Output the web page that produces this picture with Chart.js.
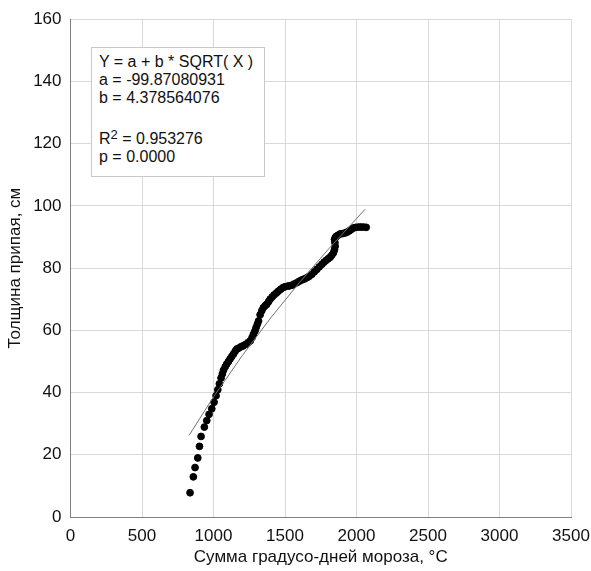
<!DOCTYPE html>
<html>
<head>
<meta charset="utf-8">
<script src="https://cdn.jsdelivr.net/npm/chart.js@4"></script>
<style>
  body { margin: 0; background: #fff; }
  #wrap { position: relative; width: 591px; height: 571px; }
  #stats {
    position: absolute; left: 91px; top: 47px; width: 174px; height: 130px;
    box-sizing: border-box; border: 1px solid #c8c8c8; background: #fff;
    font-family: "Liberation Sans", Arial, sans-serif; font-size: 16px; color: #111;
    padding: 5px 0 0 7px; line-height: 18px;
  }
  #stats div { white-space: nowrap; }
  #stats sup { font-size: 13px; vertical-align: 5px; line-height: 0; }
</style>
</head>
<body>
<div id="wrap">
  <canvas id="chart" width="591" height="571"></canvas>
  <div id="stats">
    <div>Y = a + b * SQRT( X )</div>
    <div>a = -99.87080931</div>
    <div>b = 4.378564076</div>
    <div style="height:23px"></div>
    <div>R<sup>2</sup> = 0.953276</div>
    <div>p = 0.0000</div>
  </div>
</div>
<script>
// Sum of freezing degree-days (x) and fast ice thickness, cm (y)
const frostSum = [836, 859, 871, 890, 902, 913, 936, 953, 969, 988, 1004, 1018, 1030, 1041, 1053, 1062,
  1070, 1082, 1093, 1105, 1116, 1128, 1140, 1152, 1163, 1177, 1191, 1206, 1222, 1240, 1257, 1270,
  1280, 1290, 1298, 1307, 1315, 1326, 1338, 1349, 1361, 1373, 1385, 1396, 1410, 1424, 1440, 1454,
  1470, 1485, 1500, 1517, 1532, 1548, 1565, 1583, 1600, 1618, 1635, 1653, 1670, 1688, 1705, 1723,
  1740, 1758, 1773, 1788, 1802, 1816, 1828, 1839, 1846, 1851, 1849, 1846, 1852, 1858, 1872, 1886,
  1904, 1921, 1936, 1951, 1965, 1979, 1996, 2014, 2031, 2049, 2068];
const iceThickness = [7.8, 12.9, 15.9, 19, 22.7, 25.9, 28.9, 31, 33, 34.8, 36.9, 39, 40.9, 42.8, 44.7, 46,
  47.2, 48.3, 49.2, 50, 50.8, 51.6, 52.4, 53.3, 54, 54.3, 54.7, 55, 55.4, 56, 56.6, 57.7,
  58.8, 59.8, 60.9, 62, 63, 65, 66.3, 67.3, 67.9, 68.4, 69.2, 70, 70.7, 71.4, 72, 72.6,
  73.2, 73.7, 74, 74.2, 74.3, 74.5, 74.9, 75.3, 75.8, 76.2, 76.5, 76.9, 77.4, 78, 78.8, 79.6,
  80.4, 81.2, 81.9, 82.5, 83, 83.5, 84.2, 84.9, 85.9, 87, 88.2, 89.2, 89.8, 90.2, 90.6, 91,
  91.1, 91.3, 91.6, 92, 92.5, 92.9, 93.1, 93.2, 93.2, 93.2, 93.1];

// Fitted curve Y = a + b*sqrt(X), values read at a few X
const fitX = [830, 1000, 1200, 1400, 1600, 1800, 2060];
const fitY = [26.3, 38.6, 51.8, 64.0, 75.3, 85.9, 98.9];

const font = { family: '"Liberation Sans", Arial, sans-serif', size: 17 };

new Chart(document.getElementById('chart'), {
  type: 'scatter',
  data: {
    datasets: [{
      label: 'fit',
      data: fitX.map((x, i) => ({ x: x, y: fitY[i] })),
      showLine: true,
      borderColor: '#707070',
      borderWidth: 1,
      pointRadius: 0,
      order: 0
    }, {
      label: 'obs',
      data: frostSum.map((x, i) => ({ x: x, y: iceThickness[i] })),
      backgroundColor: '#000',
      borderColor: '#000',
      pointRadius: 3.4,
      order: 1
    }]
  },
  options: {
    responsive: false,
    animation: false,
    layout: { padding: { top: 17, right: 20, left: 5, bottom: 0 } },
    plugins: { legend: { display: false }, tooltip: { enabled: false } },
    scales: {
      x: {
        type: 'linear', min: 0, max: 3500,
        ticks: { stepSize: 500, color: '#111', font: font, padding: 9, maxRotation: 0,
          callback: v => String(v) },
        grid: { color: '#d9d9d9', drawTicks: false },
        border: { color: '#808080' },
        title: { display: true, text: 'Сумма градусо-дней мороза, °C', color: '#111', font: font,
          padding: { top: 0, bottom: 3 } },
        afterFit: s => { s.height = 54; s.paddingLeft = 0; s.paddingRight = 0; }
      },
      y: {
        min: 0, max: 160,
        ticks: { stepSize: 20, color: '#111', font: font, padding: 9,
          callback: v => String(v) },
        grid: { color: '#d9d9d9', drawTicks: false },
        border: { color: '#808080' },
        title: { display: true, text: 'Толщина припая, см', color: '#111', font: font, padding: 0 },
        afterFit: s => { s.width = 65.5; }
      }
    }
  }
});
</script>
</body>
</html>
